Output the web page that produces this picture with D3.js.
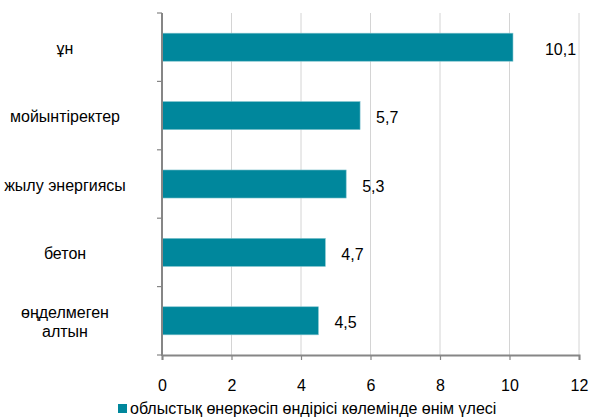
<!DOCTYPE html>
<html>
  <head>
    <meta charset="utf-8">
    <title>өнім үлесі</title>
    <style>
      body { margin: 0; background: #fff; }
      text { font-family: "Liberation Sans", Arial, sans-serif; fill: #000; }
    </style>
  </head>
  <body>
    <script src="https://d3js.org/d3.v7.min.js"></script>
    <script>

// chart data
var categories = ["ұн", "мойынтіректер", "жылу энергиясы", "бетон", "өңделмеген алтын"];
var values = [10.1, 5.7, 5.3, 4.7, 4.5];
var xTicks = [0, 2, 4, 6, 8, 10, 12];
var seriesName = "облыстық өнеркәсіп өндірісі көлемінде өнім үлесі";

var width = 589,
    height = 417,
    mLeft = 162, mRight = 579,
    mTop = 13, mBottom = 355;

var teal = "#00879c";
var fs = "16px";

var svg = d3.select("body").append("svg")
    .attr("width", width)
    .attr("height", height);

var x = d3.scaleLinear().domain([0, 12]).range([mLeft, mRight]);
var y = d3.scaleBand().domain(categories).range([mTop, mBottom]).paddingInner(0.59).paddingOuter(0.295);

// gridlines
svg.selectAll("line.grid")
  .data(xTicks.slice(1))
  .enter().append("line")
    .attr("class", "grid")
    .attr("x1", function (d) { return x(d); })
    .attr("x2", function (d) { return x(d); })
    .attr("y1", mTop)
    .attr("y2", mBottom)
    .attr("stroke", "#d4d4d4")
    .attr("stroke-width", 1);

// bars
svg.selectAll("rect.bar")
  .data(values)
  .enter().append("rect")
    .attr("class", "bar")
    .attr("x", x(0))
    .attr("y", function (d, i) { return y(categories[i]); })
    .attr("width", function (d) { return x(d) - x(0); })
    .attr("height", y.bandwidth())
    .attr("fill", teal)
    .attr("stroke", "#7fc3ce")
    .attr("stroke-width", 0.6);

// value labels
var maxV = d3.max(values);
svg.selectAll("text.val")
  .data(values)
  .enter().append("text")
    .attr("class", "val")
    .attr("x", function (d) { return x(d) + (d === maxV ? 32 : 16); })
    .attr("y", function (d, i) { return y(categories[i]) + y.bandwidth() / 2 + 2; })
    .attr("dy", "0.35em")
    .style("font-size", fs)
    .text(function (d) { return String(d).replace(".", ","); });

// x axis
var xAxis = svg.append("g")
    .attr("transform", "translate(0," + mBottom + ")")
    .call(d3.axisBottom(x).tickValues(xTicks).tickSize(5).tickPadding(20).tickFormat(d3.format("d")));
xAxis.select(".domain").attr("stroke", "#868686").attr("stroke-width", 2);
xAxis.selectAll(".tick line").attr("stroke", "#868686").attr("stroke-width", 1.2);
xAxis.selectAll(".tick text").style("font-size", fs).attr("font-family", "Liberation Sans, Arial, sans-serif").attr("fill", "#000");

// y axis: ticks at band boundaries
var yBounds = d3.range(categories.length + 1).map(function (i) { return mTop + i * (mBottom - mTop) / categories.length; });
svg.append("line")
    .attr("x1", mLeft).attr("x2", mLeft)
    .attr("y1", mTop).attr("y2", mBottom + 1)
    .attr("stroke", "#868686").attr("stroke-width", 2);
svg.selectAll("line.ytick")
  .data(yBounds)
  .enter().append("line")
    .attr("class", "ytick")
    .attr("x1", mLeft - 5).attr("x2", mLeft)
    .attr("y1", function (d) { return d; })
    .attr("y2", function (d) { return d; })
    .attr("stroke", "#868686").attr("stroke-width", 1.2);

// category labels (wrap the long one)
svg.selectAll("text.cat")
  .data(categories)
  .enter().append("text")
    .attr("class", "cat")
    .attr("text-anchor", "middle")
    .style("font-size", fs)
    .each(function (d) {
      var lines = d === "өңделмеген алтын" ? d.split(" ") : [d];
      var cy = y(d) + y.bandwidth() / 2 + 1;
      var t = d3.select(this);
      lines.forEach(function (ln, k) {
        t.append("tspan")
          .attr("x", 65)
          .attr("y", cy + (k - (lines.length - 1) / 2) * 19)
          .attr("dy", "0.35em")
          .text(ln);
      });
    });

// legend
var legend = svg.append("g").attr("transform", "translate(118,404)");
legend.append("rect")
    .attr("width", 9).attr("height", 9)
    .attr("fill", teal);
legend.append("text")
    .attr("x", 12).attr("y", 4.5)
    .attr("dy", "0.35em")
    .style("font-size", fs)
    .text(seriesName);

    </script>
  </body>
</html>
